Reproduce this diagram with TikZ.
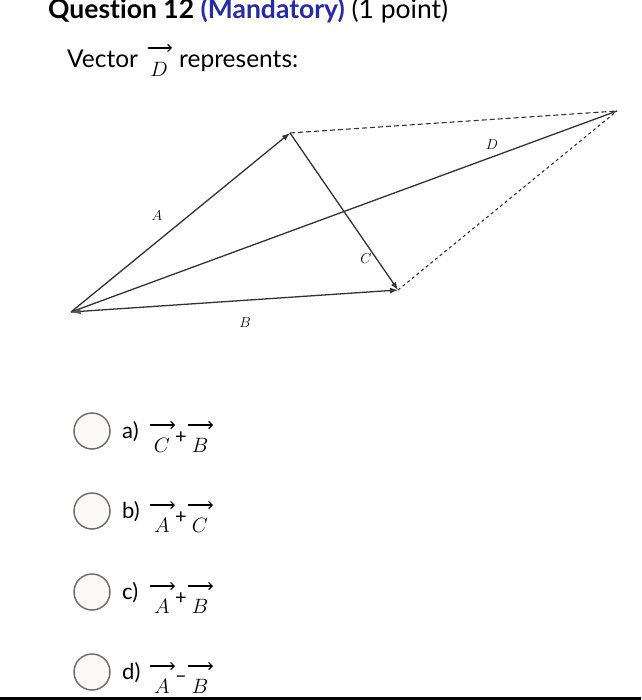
\documentclass[tikz,border=0pt]{standalone}
\usepackage{fontspec}
\setmainfont{Lato}[Ligatures=CommonOff]
\usetikzlibrary{arrows.meta}
\definecolor{mandblue}{RGB}{38,44,164}
\definecolor{lineg}{RGB}{50,50,50}
\definecolor{tipg}{RGB}{85,85,85}
\definecolor{ringg}{RGB}{112,112,112}
\definecolor{ringfill}{RGB}{253,249,247}

\begin{document}
\begin{tikzpicture}[x=1pt,y=-1pt,
  side/.style={color=lineg, line width=1.3pt},
  head/.style={-{Latex[length=8pt,width=6pt,fill=tipg]}},
  ghost/.style={color=lineg, line width=1.1pt, dash pattern=on 5pt off 3pt},
  lab/.style={inner sep=0pt, font=\fontsize{15}{18}\selectfont},
  term/.style={inner sep=0pt, font=\fontsize{21}{24}\selectfont},
  vec/.style={line width=1.2pt, -{Straight Barb[length=3.5pt,width=7pt]}},
  radio/.style={circle, draw=ringg, fill=ringfill, line width=1.5pt, minimum size=36pt, inner sep=0pt},
  opt/.style={inner sep=0pt, anchor=base west, font=\fontsize{22}{26}\selectfont}]
\useasboundingbox (0,0) rectangle (641,700);

\node[anchor=base west, inner sep=0pt, font=\fontsize{26.5}{30}\selectfont] (title) at (48,19)
  {\textbf{Question 12 \textcolor{mandblue}{(Mandatory)}} (1 point)};

\node[anchor=base west, inner sep=0pt, font=\fontsize{24.5}{28}\selectfont] (vword) at (67,68) {Vector};
\node[term, font=\fontsize{20}{24}\selectfont] (dD) at (159,69) {$D$};
\draw[vec] ([shift={(-11pt,21pt)}]dD.center) -- ([shift={(13pt,21pt)}]dD.center);
\node[anchor=base west, inner sep=0pt, font=\fontsize{24.5}{28}\selectfont] (rep) at (179,68) {represents:};

\coordinate (O) at (71,312);
\coordinate (P) at (290,133);
\coordinate (Q) at (398,290);
\coordinate (R) at (617,111);

\draw[ghost] (P) -- (R);
\draw[ghost, dash pattern=on 3pt off 3pt] (Q) -- (R);
\draw[side] (O) -- (R);
\draw[side, head] (O) -- (P);
\draw[side, head] (O) -- (Q);
\draw[side, head] (P) -- (Q);
\fill[tipg] (O) -- ++(9,-3) -- ++(1,5) -- cycle;

\node[lab] (lA) at (157,216) {$A$};
\node[lab] (lB) at (245,323) {$B$};
\node[lab] (lC) at (366,259) {$C$};
\node[lab] (lD) at (492,145) {$D$};

\foreach \y/\l/\p/\o/\q in {431/a/C/+/B, 511/b/A/+/C, 592/c/A/+/B, 672/d/A/--/B}
{
\node[radio] (r\l) at (92,\y) {};
\node[opt] (t\l) at (122,\y+7) {\l)};
\node[term] (p\l) at (162,\y+14) {$\p$};
\node[inner sep=0pt, font=\fontsize{20}{24}\selectfont] (o\l) at (181,\y+7) {\o};
\node[term] (q\l) at (200,\y+14) {$\q$};
\draw[vec] ([shift={(-12pt,20pt)}]p\l.center) -- ([shift={(13pt,20pt)}]p\l.center);
\draw[vec] ([shift={(-12pt,20pt)}]q\l.center) -- ([shift={(13pt,20pt)}]q\l.center);
}

\fill[black] (0,697) rectangle (641,700);
\end{tikzpicture}
\end{document}
